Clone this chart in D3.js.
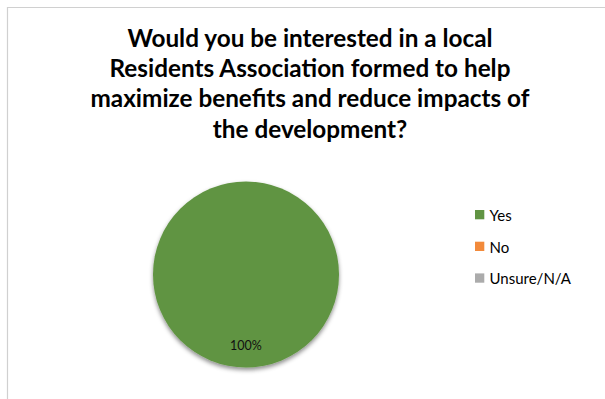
<!DOCTYPE html>
<html>
<head>
<meta charset="utf-8">
<script src="https://cdn.jsdelivr.net/npm/d3@7"></script>
<style>
  html, body { margin: 0; padding: 0; background: #fff; }
  svg { display: block; }
</style>
</head>
<body>
<svg id="chart" width="605" height="399"></svg>
<script>
// Survey responses
const categories = ["Yes", "No", "Unsure/N/A"];
const values = [100, 0, 0];
const colors = ["#619443", "#F28A3B", "#ABABAB"];
const titleLines = [
  "Would you be interested in a local",
  "Residents Association formed to help",
  "maximize benefits and reduce impacts of",
  "the development?"
];

const svg = d3.select("#chart");
const W = 605, H = 399;
const font = "Lato, 'Open Sans', 'Liberation Sans', sans-serif";

// chart area frame (top and left edges visible)
svg.append("path")
  .attr("d", `M7.5,${H} L7.5,7.5 L${W},7.5`)
  .attr("fill", "none")
  .attr("stroke", "#d0d0d0")
  .attr("stroke-width", 1.2);

// drop shadow for the pie
const defs = svg.append("defs");
const f = defs.append("filter").attr("id", "shadow")
  .attr("x", "-20%").attr("y", "-20%").attr("width", "140%").attr("height", "140%");
f.append("feDropShadow").attr("dx", 0).attr("dy", 2.5)
  .attr("stdDeviation", 2).attr("flood-color", "#000").attr("flood-opacity", 0.45);

// title
const title = svg.append("text")
  .attr("text-anchor", "middle")
  .attr("font-family", font)
  .attr("font-weight", "bold")
  .attr("font-size", 24.3)
  .attr("fill", "#000");
titleLines.forEach((line, i) => {
  title.append("tspan")
    .attr("x", 310)
    .attr("y", 47 + i * 30.2)
    .text(line);
});

// pie
const cx = 246, cy = 274.5, r = 93;
const pie = d3.pie().sort(null).value(d => d.value);
const data = categories.map((c, i) => ({ name: c, value: values[i], color: colors[i] }));
const arcs = pie(data);
const arc = d3.arc().innerRadius(0).outerRadius(r);
const labelArc = d3.arc().innerRadius(r * 0.77).outerRadius(r * 0.77);

const g = svg.append("g").attr("transform", `translate(${cx},${cy})`);
g.append("g").attr("filter", "url(#shadow)")
  .selectAll("path")
  .data(arcs.filter(d => d.data.value > 0))
  .join("path")
  .attr("d", arc)
  .attr("fill", d => d.data.color);

const total = d3.sum(values);
g.selectAll("text.lbl")
  .data(arcs.filter(d => d.data.value > 0))
  .join("text")
  .attr("class", "lbl")
  .attr("transform", d => `translate(${labelArc.centroid(d)})`)
  .attr("text-anchor", "middle")
  .attr("dy", "0.35em")
  .attr("font-family", font)
  .attr("font-size", 12.5)
  .attr("fill", "#111")
  .text(d => d3.format(".0%")(d.data.value / total));

// legend
const legend = svg.append("g").attr("transform", "translate(475,210)");
const item = legend.selectAll("g")
  .data(data)
  .join("g")
  .attr("transform", (d, i) => `translate(0,${i * 31.7})`);
item.append("rect")
  .attr("width", 9.3).attr("height", 9.3)
  .attr("fill", d => d.color);
item.append("text")
  .attr("x", 14.5).attr("y", 11)
  .attr("font-family", font)
  .attr("font-size", 15)
  .attr("fill", "#000")
  .text(d => d.name);
</script>
</body>
</html>
